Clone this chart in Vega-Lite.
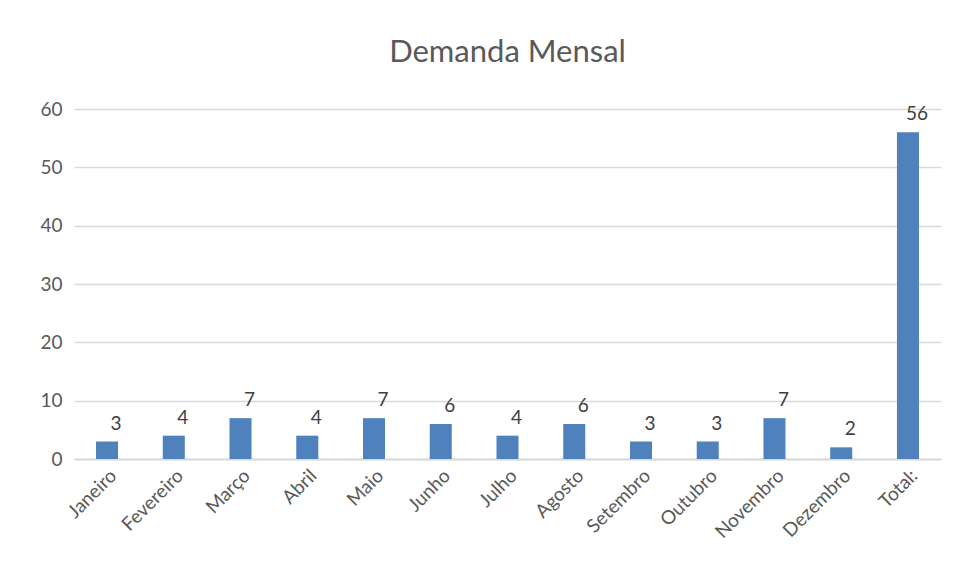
{
  "$schema": "https://vega.github.io/schema/vega-lite/v6.json",
  "autosize": {"type": "none"},
  "width": 867,
  "height": 350,
  "padding": {"left": 74, "top": 109, "right": 17, "bottom": 123},
  "background": "white",
  "title": {
    "text": "Demanda Mensal",
    "font": "Lato",
    "fontSize": 31,
    "fontWeight": "normal",
    "color": "#595959",
    "anchor": "middle",
    "offset": 31
  },
  "data": {
    "values": [
      {"mes": "Janeiro", "demanda": 3},
      {"mes": "Fevereiro", "demanda": 4},
      {"mes": "Março", "demanda": 7},
      {"mes": "Abril", "demanda": 4},
      {"mes": "Maio", "demanda": 7},
      {"mes": "Junho", "demanda": 6},
      {"mes": "Julho", "demanda": 4},
      {"mes": "Agosto", "demanda": 6},
      {"mes": "Setembro", "demanda": 3},
      {"mes": "Outubro", "demanda": 3},
      {"mes": "Novembro", "demanda": 7},
      {"mes": "Dezembro", "demanda": 2},
      {"mes": "Total:", "demanda": 56}
    ]
  },
  "encoding": {
    "x": {
      "field": "mes",
      "type": "nominal",
      "sort": null,
      "scale": {"paddingInner": 0.67, "paddingOuter": 0.33},
      "axis": {
        "title": null,
        "labelAngle": -45,
        "labelFont": "Lato",
        "labelFontSize": 19,
        "labelColor": "#595959",
        "ticks": false,
        "labelPadding": 7,
        "domainColor": "#d9d9d9",
        "domainWidth": 2
      }
    },
    "y": {
      "field": "demanda",
      "type": "quantitative",
      "scale": {"domain": [0, 60]},
      "axis": {
        "title": null,
        "values": [0, 10, 20, 30, 40, 50, 60],
        "labelFont": "Lato",
        "labelFontSize": 19,
        "labelColor": "#595959",
        "ticks": false,
        "domain": false,
        "labelPadding": 12,
        "gridColor": "#d9d9d9",
        "gridWidth": 1.5
      }
    }
  },
  "layer": [
    {"mark": {"type": "bar", "color": "#4F81BD"}},
    {
      "mark": {
        "type": "text",
        "baseline": "bottom",
        "dx": 9,
        "dy": -8,
        "font": "Lato",
        "fontSize": 19,
        "color": "#404040"
      },
      "encoding": {"text": {"field": "demanda", "type": "quantitative"}}
    }
  ],
  "config": {"view": {"stroke": null}}
}
